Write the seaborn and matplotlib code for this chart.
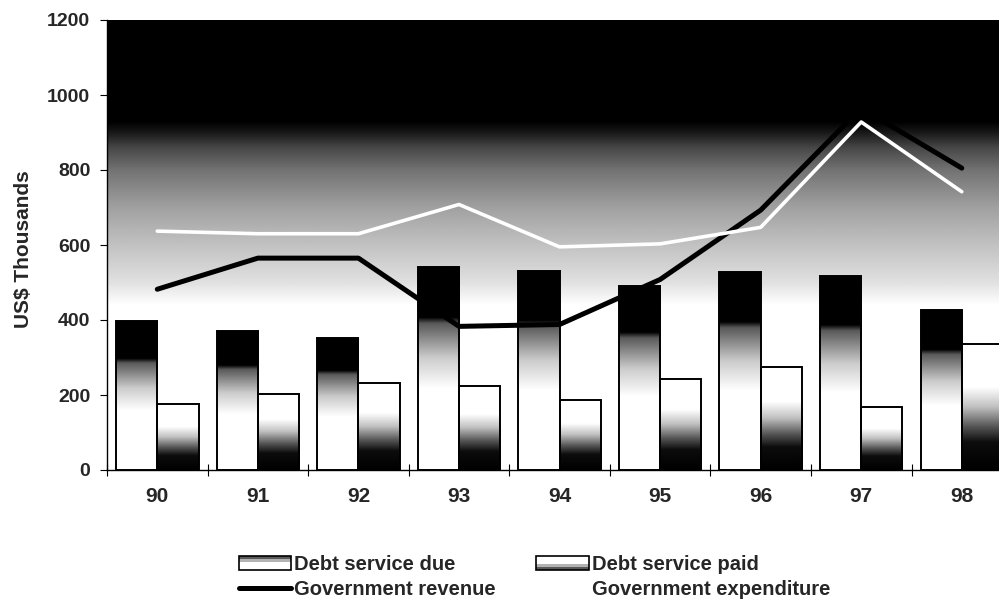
import numpy as np
import pandas as pd
import matplotlib
matplotlib.use("Agg")
import matplotlib.pyplot as plt
import seaborn as sns
from matplotlib.patches import Rectangle
from matplotlib.lines import Line2D
from matplotlib.legend_handler import HandlerBase

# ---- data ----
years = ["90", "91", "92", "93", "94", "95", "96", "97", "98"]
debt_due = [397, 372, 353, 542, 531, 490, 528, 517, 428]
debt_paid = [176, 203, 232, 225, 188, 243, 275, 167, 336]
gov_revenue = [482, 565, 565, 383, 388, 508, 693, 965, 805]
gov_expenditure = [637, 630, 630, 708, 595, 603, 647, 928, 742]
y_ticks = [0, 200, 400, 600, 800, 1000, 1200]

sns.set_theme(style="white")
plt.rcParams["font.family"] = ["Liberation Sans", "DejaVu Sans"]
plt.rcParams["font.weight"] = "bold"

fig = plt.figure(figsize=(9.99, 5.99), dpi=100)
ax = fig.add_axes([107 / 999, 1 - 470 / 599, 892 / 999, 450 / 599])

df = pd.DataFrame({
    "year": years * 2,
    "value": debt_due + debt_paid,
    "series": ["Debt service due"] * len(years) + ["Debt service paid"] * len(years),
})
sns.barplot(data=df, x="year", y="value", hue="series", order=years,
            hue_order=["Debt service due", "Debt service paid"],
            palette=["white", "white"], width=0.82, dodge=True, ax=ax,
            legend=False, saturation=1, edgecolor="black", linewidth=1.4)

XMAX = 8.37
# background gradient of plot area
yy = np.linspace(0, 1200, 600)
stops_v = [0, 440, 500, 600, 700, 800, 860, 900, 930, 1200]
stops_g = [1.0, 1.0, 0.88, 0.76, 0.63, 0.45, 0.28, 0.1, 0.0, 0.0]
bg = np.interp(yy, stops_v, stops_g).reshape(-1, 1)
ax.imshow(bg, cmap="gray", vmin=0, vmax=1, extent=(-0.5, XMAX, 0, 1200),
          origin="lower", aspect="auto", zorder=0, interpolation="bilinear")

# gradient fill of bars
f = np.linspace(0, 1, 200)
due_grad = np.interp(f, [0, 0.40, 0.55, 0.72, 0.75, 1], [1.0, 1.0, 0.8, 0.35, 0.0, 0.0])
paid_grad = np.interp(f, [0, 0.22, 0.35, 0.5, 0.66, 1], [0.0, 0.05, 0.35, 0.75, 1.0, 1.0])
bars = [p for p in ax.patches]
n = len(years)
for i, p in enumerate(bars):
    grad = due_grad if i < n else paid_grad
    x0 = p.get_x()
    w = p.get_width()
    h = p.get_height()
    im = ax.imshow(grad.reshape(-1, 1), cmap="gray", vmin=0, vmax=1,
                   extent=(x0, x0 + w, 0, h), origin="lower", aspect="auto",
                   zorder=2, interpolation="bilinear")
    im.set_clip_path(p)
    p.set_facecolor("none")
    p.set_zorder(3)

xpos = np.arange(n)
sns.lineplot(x=xpos, y=gov_revenue, color="black", linewidth=3.6, ax=ax,
             zorder=4, sort=False)
sns.lineplot(x=xpos, y=gov_expenditure, color="white", linewidth=2.6, ax=ax,
             zorder=5, sort=False)

ax.set_xlim(-0.5, XMAX)
ax.set_ylim(0, 1200)
ax.set_yticks(y_ticks)
ax.set_yticklabels([str(t) for t in y_ticks], fontsize=14, fontweight="bold")
ax.set_xticks(xpos)
ax.set_xticklabels(years, fontsize=15, fontweight="bold")
ax.set_xticks(np.arange(-0.5, XMAX, 1.0), minor=True)
ax.tick_params(axis="x", which="major", length=0, pad=12)
ax.tick_params(axis="x", which="minor", length=8, direction="inout", width=0.8,
               color="black", bottom=True)
ax.tick_params(axis="y", which="major", length=5, direction="out", width=0.8,
               color="black", left=True, pad=7)
for s in ["top", "right"]:
    ax.spines[s].set_visible(False)
for s in ["left", "bottom"]:
    ax.spines[s].set_color("black")
    ax.spines[s].set_linewidth(1.0)
ax.set_xlabel("")
ax.set_ylabel("US$ Thousands", fontsize=15, fontweight="bold")
ax.yaxis.set_label_coords(-0.083, 0.49)


class GradHandler(HandlerBase):
    def __init__(self, stops):
        super().__init__()
        self.stops = stops

    def create_artists(self, legend, orig_handle, xdescent, ydescent, width,
                       height, fontsize, trans):
        k = len(self.stops)
        arts = []
        for i, g in enumerate(self.stops):
            arts.append(Rectangle((-xdescent, -ydescent + height * (k - 1 - i) / k),
                                  width, height / k, facecolor=str(g),
                                  edgecolor="none", transform=trans))
        arts.append(Rectangle((-xdescent, -ydescent), width, height,
                              facecolor="none", edgecolor="black", lw=1.2,
                              transform=trans))
        return arts


h_due = Rectangle((0, 0), 1, 1)
h_paid = Rectangle((0, 0), 1, 1)
h_rev = Line2D([], [], color="black", lw=3.6)
h_exp = Line2D([], [], color="white", lw=2.6)
fig.legend([h_due, h_rev, h_paid, h_exp],
           ["Debt service due", "Government revenue", "Debt service paid",
            "Government expenditure"],
           handler_map={h_due: GradHandler([0.35, 0.7, 1, 1, 1]),
                        h_paid: GradHandler([1, 1, 1, 0.7, 0.35])},
           loc="upper left", bbox_to_anchor=(229 / 999, 1 - 545 / 599),
           ncol=2, frameon=False, borderpad=0, handlelength=2.6,
           handletextpad=0.15, columnspacing=2.0, labelspacing=0.3,
           prop={"size": 14.5, "weight": "bold"})

fig.savefig("out.png", dpi=100)
